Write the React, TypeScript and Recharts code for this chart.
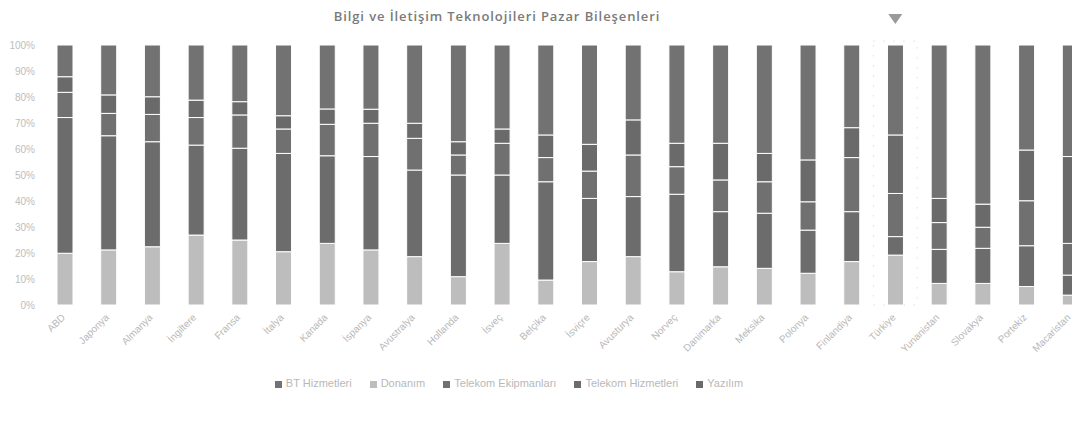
import React from "react";
import {
  BarChart,
  Bar,
  XAxis,
  YAxis,
  Legend,
  ReferenceDot,
  ReferenceArea,
} from "recharts";

const TITLE = "Bilgi ve İletişim Teknolojileri Pazar Bileşenleri";

const countries = [
  "ABD", "Japonya", "Almanya", "İngiltere", "Fransa", "İtalya", "Kanada", "İspanya",
  "Avustralya", "Hollanda", "İsveç", "Belçika", "İsviçre", "Avusturya", "Norveç", "Danimarka",
  "Meksika", "Polonya", "Finlandiya", "Türkiye", "Yunanistan", "Slovakya", "Portekiz", "Macaristan",
];

const highlighted = "Türkiye";

const seriesNames = [
  "Donanım",
  "Telekom Hizmetleri",
  "Telekom Ekipmanları",
  "Yazılım",
  "BT Hizmetleri",
];

const donanim = [19.9, 21.2, 22.4, 26.9, 25.0, 20.5, 23.7, 21.2, 18.6, 10.9, 23.7, 9.6, 16.7, 18.6, 12.8, 14.7, 14.1, 12.2, 16.7, 19.2, 8.3, 8.3, 7.1, 3.8];
const telekomHizmet = [52.2, 43.9, 40.4, 34.6, 35.3, 37.8, 33.7, 35.9, 33.3, 39.1, 26.3, 37.8, 24.3, 23.1, 29.8, 21.2, 21.2, 16.6, 19.2, 7.1, 13.1, 13.5, 15.7, 7.7];
const telekomEkipman = [9.7, 8.6, 10.5, 10.6, 12.8, 9.4, 12.1, 12.8, 12.2, 7.7, 12.2, 9.3, 10.5, 16.0, 10.6, 12.2, 12.1, 10.9, 20.8, 16.6, 10.3, 8.1, 17.3, 12.2];
const yazilim = [6.0, 7.1, 6.8, 6.7, 5.1, 5.1, 5.9, 5.4, 5.8, 5.1, 5.5, 8.7, 10.3, 13.5, 9.0, 14.1, 10.9, 16.1, 11.5, 22.5, 9.3, 8.9, 19.5, 33.4];
const btHizmet = [12.2, 19.2, 19.9, 21.2, 21.8, 27.2, 24.6, 24.7, 30.1, 37.2, 32.3, 34.6, 38.2, 28.8, 37.8, 37.8, 41.7, 44.2, 31.8, 34.6, 59.0, 61.2, 40.4, 42.9];

const yTicks = [0, 0.1, 0.2, 0.3, 0.4, 0.5, 0.6, 0.7, 0.8, 0.9, 1];

const colors = ["#bdbdbd", "#6c6c6c", "#707070", "#6a6a6a", "#727272"];
const keys = ["s0", "s1", "s2", "s3", "s4"];

const data = countries.map((c, i) => ({
  name: c,
  s0: donanim[i],
  s1: telekomHizmet[i],
  s2: telekomEkipman[i],
  s3: yazilim[i],
  s4: btHizmet[i],
}));

const Triangle = (props: any) => {
  const { cx, cy } = props;
  if (cx == null || cy == null) return null;
  return (
    <polygon
      points={`${cx - 7},${cy - 5} ${cx + 7},${cy - 5} ${cx},${cy + 5}`}
      fill="#9a9a9a"
    />
  );
};

export default function App() {
  return (
    <div style={{ width: 1056, height: 405 }}>
      <div
        style={{
          position: "fixed",
          top: 8,
          left: 8,
          width: 1064,
          height: 405,
          overflow: "hidden",
          background: "#ffffff",
        }}
      >
        <div
          style={{
            position: "absolute",
            top: 0,
            left: 0,
            width: 978,
            textAlign: "center",
            fontFamily: "'Open Sans', sans-serif",
            fontSize: 13,
            fontWeight: 600,
            letterSpacing: "0.9px",
            color: "#7a7a7a",
            lineHeight: "16px",
          }}
        >
          {TITLE}
        </div>
        <BarChart
          width={1090}
          height={405}
          data={data}
          stackOffset="expand"
          barSize={16}
          margin={{ top: 37, right: 6, left: 0, bottom: 24 }}
          style={{ fontFamily: "'Liberation Sans', Arial, sans-serif" }}
        >
          <XAxis
            dataKey="name"
            interval={0}
            angle={-45}
            textAnchor="end"
            height={72}
            tickLine={false}
            axisLine={false}
            tick={{ fontSize: 10, fill: "#b8b8b8", dx: -4 }}
          />
          <YAxis
            width={35}
            ticks={yTicks}
            domain={[0, 1]}
            tickFormatter={(v: number) => `${Math.round(v * 100)}%`}
            tickLine={false}
            axisLine={false}
            tick={{ fontSize: 10, fill: "#bdbdbd" }}
          />
          <ReferenceArea
            x1={highlighted}
            x2={highlighted}
            y1={0}
            y2={1.015}
            ifOverflow="visible"
            fill="none"
            stroke="#cfcfcf"
            strokeDasharray="1 9"
          />
          {keys.map((k, i) => (
            <Bar
              key={k}
              dataKey={k}
              name={seriesNames[i]}
              stackId="a"
              fill={colors[i]}
              stroke="#ffffff"
              strokeWidth={1}
              isAnimationActive={false}
            />
          ))}
          <ReferenceDot
            x={highlighted}
            y={1.1}
            ifOverflow="visible"
            shape={Triangle}
          />
          <Legend
            verticalAlign="bottom"
            iconType="square"
            iconSize={7}
            wrapperStyle={{ left: 250, width: 520, fontSize: 11, color: "#b8b8b8" }}
            formatter={(value: string) => <span style={{ color: "#b8b8b8", marginRight: 8 }}>{value}</span>}
          />
        </BarChart>
      </div>
    </div>
  );
}
